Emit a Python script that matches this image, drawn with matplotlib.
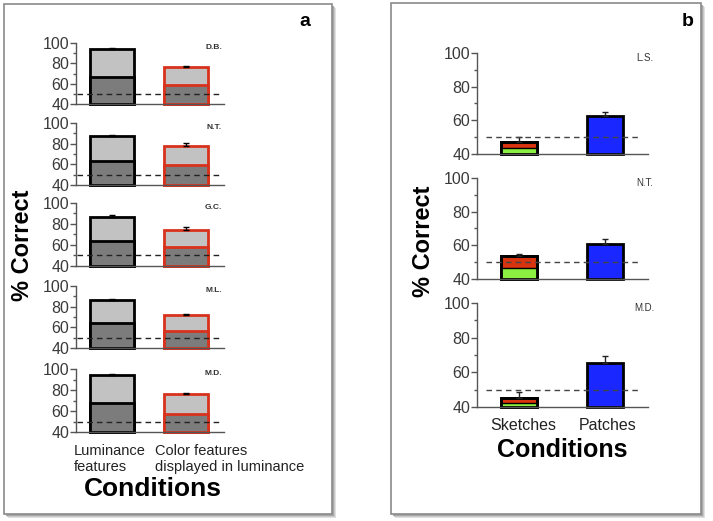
import matplotlib.pyplot as plt
from matplotlib.patches import Rectangle

plt.rcParams['font.family'] = ['Liberation Sans', 'DejaVu Sans']

# panel a: luminance vs colour-in-luminance, per subject
subjects_a = ["D.B.", "N.T.", "G.C.", "M.L.", "M.D."]
lum_total = [94, 87, 87, 86, 94]
lum_lower = [67, 63, 64, 64, 68]
lum_err = [1, 1.5, 1.5, 1, 1]
col_total = [76, 78, 74, 72, 76]
col_lower = [59, 59, 58, 56, 57]
col_err = [1, 2.5, 3, 1, 1]
cond_a = ["Luminance\nfeatures", "Color features\ndisplayed in luminance"]

# panel b: sketches vs patches, per subject
subjects_b = ["L.S.", "N.T.", "M.D."]
sk_total = [47, 53.5, 45.2]
sk_green = [43.6, 46.5, 42.3]
sk_err = [3, 1.5, 3.5]
pa_total = [62.6, 61, 65.4]
pa_err = [2.5, 3, 4]
cond_b = ["Sketches", "Patches"]

chance = 50

W, H = 713, 521
fig = plt.figure(figsize=(W / 100, H / 100), dpi=100)


def px_axes(x0, x1, ytop, ybot):
    return fig.add_axes([x0 / W, 1 - ybot / H, (x1 - x0) / W, (ybot - ytop) / H])


def style_axes(ax, xlim):
    ax.set_ylim(40, 100)
    ax.set_xlim(*xlim)
    ax.set_yticks([40, 60, 80, 100])
    ax.set_yticks([50, 70, 90], minor=True)
    ax.set_xticks([])
    for s in ["top", "right"]:
        ax.spines[s].set_visible(False)
    for s in ["left", "bottom"]:
        ax.spines[s].set_color("#555555")
        ax.spines[s].set_linewidth(1.0)
    ax.tick_params(axis="y", which="both", colors="#555555", labelcolor="#3a3a3a",
                   labelsize=11.5, length=4, width=1, pad=1)
    ax.tick_params(axis="y", which="minor", length=2.5)
    ax.patch.set_alpha(0)


# panel frames with shadow
for (x0, y0, x1, y1) in [(4, 4, 332, 514), (391, 3, 701, 514)]:
    for off, c in [(4, "#e0e0e0"), (3, "#c8c8c8"), (2, "#a8a8a8")]:
        fig.patches.append(Rectangle(((x0 + off) / W, 1 - (y1 + off) / H), (x1 - x0) / W,
                                     (y1 - y0) / H, transform=fig.transFigure,
                                     facecolor=c, edgecolor="none", zorder=-3))
    fig.patches.append(Rectangle((x0 / W, 1 - y1 / H), (x1 - x0) / W, (y1 - y0) / H,
                                 transform=fig.transFigure, facecolor="white",
                                 edgecolor="#8a8a8a", linewidth=1.2, zorder=-2))

# panel a
rows_a = [(43, 104), (123, 185), (203, 266), (286, 348), (369, 432)]
for i, (yt, yb) in enumerate(rows_a):
    ax = px_axes(76, 224, yt, yb)
    style_axes(ax, (-0.49, 1.51))
    w = 0.6
    ax.bar(0, lum_total[i] - 40, bottom=40, width=w, color="#c2c2c2",
           edgecolor="black", linewidth=2, zorder=2, clip_on=False)
    ax.bar(0, lum_lower[i] - 40, bottom=40, width=w, color="#7c7c7c",
           edgecolor="black", linewidth=2, zorder=2, clip_on=False)
    ax.bar(1, col_total[i] - 40, bottom=40, width=w, color="#c2c2c2",
           edgecolor="#d9321c", linewidth=2, zorder=2, clip_on=False)
    ax.bar(1, col_lower[i] - 40, bottom=40, width=w, color="#7c7c7c",
           edgecolor="#d9321c", linewidth=2, zorder=2, clip_on=False)
    ax.errorbar([0, 1], [lum_total[i], col_total[i]],
                yerr=[[0, 0], [lum_err[i], col_err[i]]], fmt="none",
                ecolor="black", elinewidth=1, capsize=2, zorder=3)
    ax.axhline(chance, xmin=0.01, xmax=0.97, color="#222222", linestyle=(0, (4, 3)),
               linewidth=1, zorder=4)
    ax.text(0.93, 0.93, subjects_a[i], transform=ax.transAxes, fontsize=6,
            fontweight="bold", color="#333333", ha="center", va="center")

fig.text(305 / W, 1 - 22 / H, "a", fontsize=14, fontweight="bold", ha="center", va="center")
fig.text(23 / W, 1 - 245 / H, "% Correct", fontsize=17, fontweight="bold",
         rotation=90, ha="center", va="center")
fig.text(74 / W, 1 - 459 / H, cond_a[0], fontsize=10.5, color="#222222",
         ha="left", va="center", linespacing=1.1)
fig.text(155 / W, 1 - 459 / H, cond_a[1], fontsize=10.5, color="#222222",
         ha="left", va="center", linespacing=1.1)
fig.text(153 / W, 1 - 489 / H, "Conditions", fontsize=19, fontweight="bold",
         ha="center", va="center")

# panel b
rows_b = [(53, 154), (178, 279), (303, 407)]
for i, (yt, yb) in enumerate(rows_b):
    ax = px_axes(477, 648, yt, yb)
    style_axes(ax, (-0.49, 1.5))
    w = 0.42
    ax.bar(0, sk_total[i] - 40, bottom=40, width=w, color="#d8340f",
           edgecolor="black", linewidth=2, zorder=2, clip_on=False)
    ax.bar(0, sk_green[i] - 40, bottom=40, width=w, color="#8cf040",
           edgecolor="black", linewidth=1, zorder=2, clip_on=False)
    ax.bar(0, sk_total[i] - 40, bottom=40, width=w, color="none",
           edgecolor="black", linewidth=2, zorder=2, clip_on=False)
    ax.bar(1, pa_total[i] - 40, bottom=40, width=w, color="#1a28ff",
           edgecolor="black", linewidth=2, zorder=2, clip_on=False)
    ax.errorbar([0, 1], [sk_total[i], pa_total[i]],
                yerr=[[0, 0], [sk_err[i], pa_err[i]]], fmt="none",
                ecolor="#222222", elinewidth=1, capsize=2, zorder=3)
    ax.axhline(chance, xmin=0.05, xmax=0.94, color="#444444", linestyle=(0, (4, 3)),
               linewidth=1, zorder=4)
    ax.text(0.98, 0.95, subjects_b[i], transform=ax.transAxes, fontsize=7,
            color="#333333", ha="center", va="center")

fig.text(688 / W, 1 - 22 / H, "b", fontsize=14, fontweight="bold", ha="center", va="center")
fig.text(424 / W, 1 - 241 / H, "% Correct", fontsize=17, fontweight="bold",
         rotation=90, ha="center", va="center")
fig.text(523 / W, 1 - 426 / H, cond_b[0], fontsize=11.5, color="#222222",
         ha="center", va="center")
fig.text(608 / W, 1 - 426 / H, cond_b[1], fontsize=11.5, color="#222222",
         ha="center", va="center")
fig.text(562 / W, 1 - 450 / H, "Conditions", fontsize=18, fontweight="bold",
         ha="center", va="center")

fig.savefig("out.png", dpi=100)
